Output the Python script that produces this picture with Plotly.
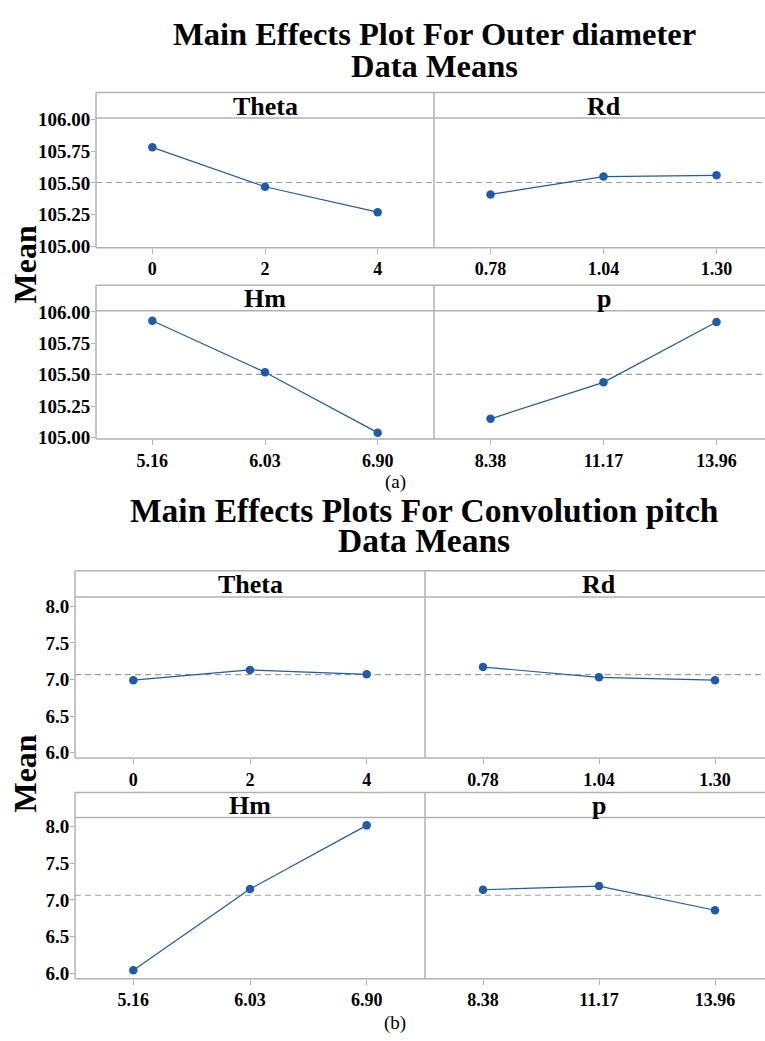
import plotly.graph_objects as go

W, H = 765, 1041

# ---------------- data ----------------
factors = ["Theta", "Rd", "Hm", "p"]
levels_theta = ["0", "2", "4"]
levels_rd = ["0.78", "1.04", "1.30"]
levels_hm = ["5.16", "6.03", "6.90"]
levels_p = ["8.38", "11.17", "13.96"]

od_theta = [105.78, 105.47, 105.27]
od_rd = [105.41, 105.55, 105.56]
od_hm = [105.93, 105.52, 105.04]
od_p = [105.15, 105.44, 105.92]

cp_theta = [6.99, 7.13, 7.07]
cp_rd = [7.17, 7.03, 6.99]
cp_hm = [6.04, 7.15, 8.02]
cp_p = [7.14, 7.19, 6.86]

od_yticks = [105.00, 105.25, 105.50, 105.75, 106.00]
od_yticktext = ["105.00", "105.25", "105.50", "105.75", "106.00"]
cp_yticks = [6.0, 6.5, 7.0, 7.5, 8.0]
cp_yticktext = ["6.0", "6.5", "7.0", "7.5", "8.0"]

title_a = ["Main Effects Plot For Outer diameter", "Data Means"]
title_b = ["Main Effects Plots For Convolution pitch", "Data Means"]

# ---------------- styling / layout ----------------
SERIF = "Liberation Serif, Times New Roman, serif"
BLUE = "#1f5ba6"
FRAME = "#b2b2b2"
DASH = "#a0a0a0"

def xd(px):
    return px / W

def yd(py):
    return 1 - py / H

sections = [
    dict(L=96, M=434, R=773,
         rows=[(85, 111, 243), (281, 307, 437.5)],
         yrange=[104.99, 106.01], yticks=od_yticks, yticktext=od_yticktext,
         series=[(levels_theta, od_theta), (levels_rd, od_rd),
                 (levels_hm, od_hm), (levels_p, od_p)],
         titles=title_a, title_y=[25, 58], title_size=32.5,
         mean_y=260, tag="(a)", tag_y=481),
    dict(L=75, M=425, R=773,
         rows=[(571.7, 598.3, 762.3), (797.3, 822.7, 986.7)],
         yrange=[5.925, 8.128], yticks=cp_yticks, yticktext=cp_yticktext,
         series=[(levels_theta, cp_theta), (levels_rd, cp_rd),
                 (levels_hm, cp_hm), (levels_p, cp_p)],
         titles=title_b, title_y=[510, 541], title_size=33.5,
         mean_y=778, tag="(b)", tag_y=1032),
]

fig = go.Figure()
layout = dict(width=W, height=H, margin=dict(l=0, r=0, t=0, b=0),
              paper_bgcolor="white", plot_bgcolor="white", showlegend=False)
shapes = []
annotations = []

ax = 0
for sec in sections:
    L, M, R = sec["L"], sec["M"], sec["R"]
    allvals = [v for _, vals in sec["series"] for v in vals]
    grand = sum(allvals) / len(allvals)
    for r, (htop, ptop, pbot) in enumerate(sec["rows"]):
        left_axis_id = None
        for c in range(2):
            ax += 1
            idx = r * 2 + c
            levels, vals = sec["series"][idx]
            name = factors[idx]
            x0 = L if c == 0 else M
            x1full = M if c == 0 else R
            x1 = min(x1full, W)
            unit = (x1full - x0) / 3.0
            xr = [-0.5, 2.5 - (x1full - x1) / unit]
            xa = "xaxis" if ax == 1 else f"xaxis{ax}"
            ya = "yaxis" if ax == 1 else f"yaxis{ax}"
            xs = "x" if ax == 1 else f"x{ax}"
            ys = "y" if ax == 1 else f"y{ax}"
            if c == 0:
                left_axis_id = ys
            layout[xa] = dict(domain=[xd(x0), xd(x1)], anchor=ys, type="category",
                              range=xr, showgrid=False, zeroline=False, showline=False,
                              ticks="outside", ticklen=5, tickcolor=FRAME, tickwidth=1,
                              tickfont=dict(family=SERIF, size=18, color="black", weight="bold"),
                              fixedrange=True)
            layout[ya] = dict(domain=[yd(pbot), yd(ptop)], anchor=xs,
                              range=sec["yrange"], showgrid=False, zeroline=False,
                              showline=False, tickvals=sec["yticks"],
                              ticktext=sec["yticktext"],
                              ticks="outside" if c == 0 else "",
                              ticklen=4, tickcolor=FRAME,
                              ticklabelstandoff=-3,
                              showticklabels=(c == 0),
                              tickfont=dict(family=SERIF, size=19, color="black", weight="bold"),
                              fixedrange=True)
            fig.add_trace(go.Scatter(x=levels, y=vals, xaxis=xs, yaxis=ys,
                                     mode="lines+markers",
                                     line=dict(color=BLUE, width=1.2),
                                     marker=dict(color=BLUE, size=8.5),
                                     cliponaxis=False))
            # header text
            annotations.append(dict(text=f"<b>{name}</b>", xref="paper", yref="paper",
                                    x=xd((x0 + x1full) / 2), y=yd((htop + ptop) / 2 + 1),
                                    xanchor="center", yanchor="middle", showarrow=False,
                                    font=dict(family=SERIF, size=26, color="black")))
        # mean reference line across the row
        shapes.append(dict(type="line", xref="paper", yref=left_axis_id,
                           x0=xd(L), x1=xd(R), y0=grand, y1=grand,
                           line=dict(color=DASH, width=1.2, dash="6px,4px"), layer="below"))
        # frame lines
        for (a, b, c_, d) in [(L, htop, R, htop), (L, ptop, R, ptop), (L, pbot, R, pbot),
                              (L, htop, L, pbot), (M, htop, M, pbot), (R, htop, R, pbot)]:
            shapes.append(dict(type="line", xref="paper", yref="paper",
                               x0=xd(a), y0=yd(b), x1=xd(c_), y1=yd(d),
                               line=dict(color=FRAME, width=1.5), layer="above"))
    # titles
    for t, ty in zip(sec["titles"], sec["title_y"]):
        annotations.append(dict(text=f"<b>{t}</b>", xref="paper", yref="paper",
                                x=xd((L + R) / 2), y=yd(ty), xanchor="center", yanchor="middle",
                                showarrow=False,
                                font=dict(family=SERIF, size=sec["title_size"], color="black")))
    annotations.append(dict(text="<b>Mean</b>", xref="paper", yref="paper",
                            x=xd(25), y=yd(sec["mean_y"]), xanchor="center", yanchor="middle",
                            textangle=-90, showarrow=False,
                            font=dict(family=SERIF, size=32, color="black")))
    annotations.append(dict(text=sec["tag"], xref="paper", yref="paper",
                            x=xd(395), y=yd(sec["tag_y"]), xanchor="center", yanchor="middle",
                            showarrow=False, font=dict(family=SERIF, size=19, color="black")))

layout["shapes"] = shapes
layout["annotations"] = annotations
fig.update_layout(**layout)
fig.write_html("out.html")
